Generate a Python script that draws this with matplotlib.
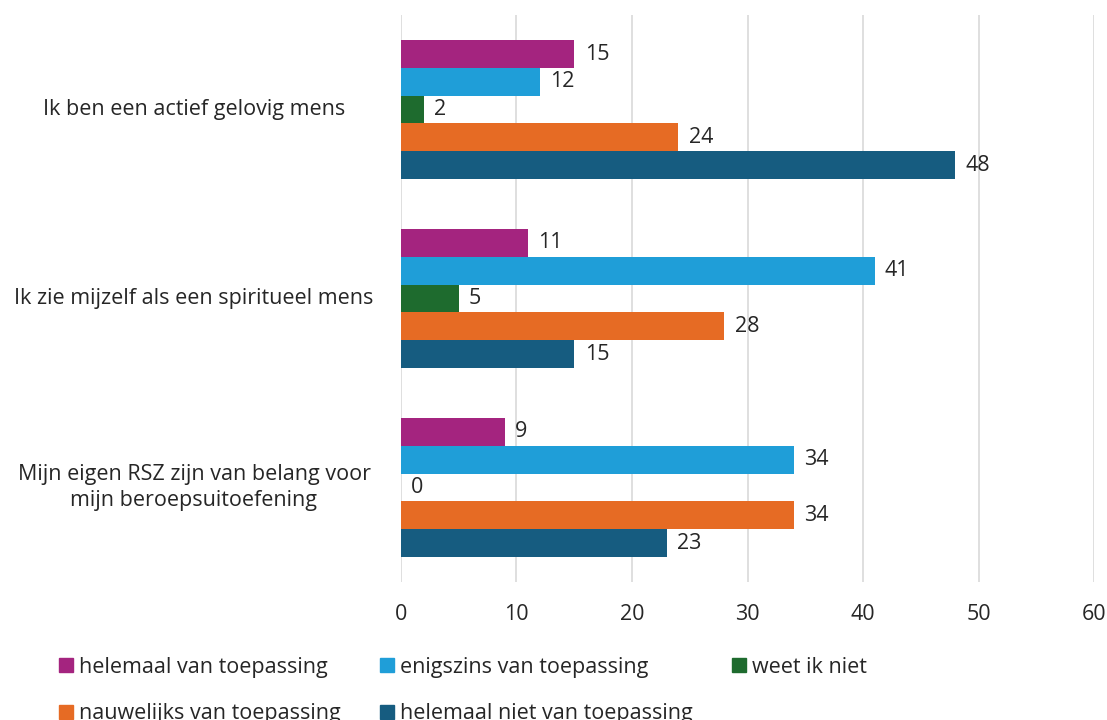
import matplotlib
matplotlib.use("Agg")
import matplotlib.pyplot as plt
import numpy as np

categories = ["Ik ben een actief gelovig mens",
              "Ik zie mijzelf als een spiritueel mens",
              "Mijn eigen RSZ zijn van belang voor\nmijn beroepsuitoefening"]
series = ["helemaal van toepassing", "enigszins van toepassing", "weet ik niet",
          "nauwelijks van toepassing", "helemaal niet van toepassing"]
values = {
    "helemaal van toepassing": [15, 11, 9],
    "enigszins van toepassing": [12, 41, 34],
    "weet ik niet": [2, 5, 0],
    "nauwelijks van toepassing": [24, 28, 34],
    "helemaal niet van toepassing": [48, 15, 23],
}
colors = ["#A4247F", "#1F9ED8", "#1E6B2E", "#E66B24", "#165C80"]
xticks = [0, 10, 20, 30, 40, 50, 60]

plt.rcParams['font.family'] = ['Open Sans', 'DejaVu Sans']
FS = 15.5
TC = '#262626'
fig = plt.figure(figsize=(11.07, 7.2), dpi=100)
ax = fig.add_axes([0.3622, 0.1917, 0.9883 - 0.3622, 0.979 - 0.1917])

bh = 0.147
n = len(series)
for si, s in enumerate(series):
    ys = [gi + (si - (n - 1) / 2) * bh for gi in range(len(categories))]
    ax.barh(ys, values[s], height=bh, color=colors[si], label=s, zorder=3)
    for y, v in zip(ys, values[s]):
        ax.text(v + 0.9, y, str(v), va='center', ha='left', fontsize=FS, color=TC)

ax.set_ylim(len(categories) - 0.5, -0.5)
ax.set_xlim(0, 60)
ax.set_xticks(xticks)
ax.set_xticklabels([str(t) for t in xticks], fontsize=FS, color=TC)
ax.tick_params(axis='x', length=0, pad=16)
ax.set_yticks([])
for sp in ax.spines.values():
    sp.set_visible(False)
ax.grid(axis='x', color='#D9D9D9', linewidth=1.2, zorder=0)
ax.set_axisbelow(True)

for gi, cat in enumerate(categories):
    fig.text(194 / 1107, 1 - (15 + 567 * (gi + 0.5) / 3) / 720, cat, ha='center', va='center',
             multialignment='center', fontsize=FS, color=TC, linespacing=1.35)

handles = [plt.Rectangle((0, 0), 1, 1, color=c) for c in colors]
order = [0, 3, 1, 4, 2]
leg = fig.legend([handles[i] for i in order], [series[i] for i in order],
                 loc='upper left', bbox_to_anchor=(0.053, 0.088), ncol=3,
                 frameon=False, fontsize=FS, handlelength=0.65, handleheight=0.65,
                 handletextpad=0.3, columnspacing=1.8, labelspacing=1.2,
                 borderaxespad=0, borderpad=0)
for t in leg.get_texts():
    t.set_color(TC)

fig.savefig("out.png", dpi=100)
